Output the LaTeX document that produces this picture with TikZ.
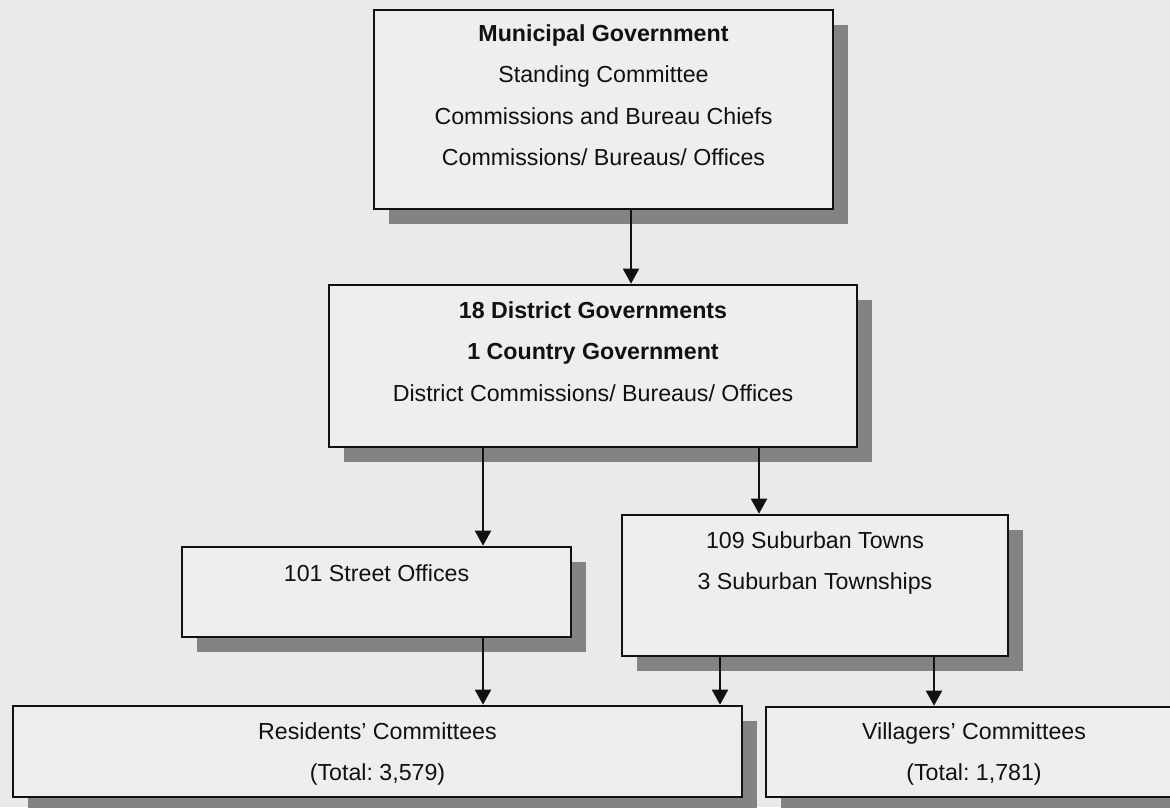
\documentclass[tikz,border=0pt]{standalone}
\usepackage{fontspec}
\setmainfont{Liberation Sans}
\usepackage{xcolor}
\usetikzlibrary{positioning,arrows.meta,shadows}
\definecolor{orgpaper}{HTML}{EAEAEA}
\definecolor{orgfill}{HTML}{EEEEEE}
\definecolor{orgink}{HTML}{111111}
\definecolor{orgshade}{HTML}{838383}
\frenchspacing

\begin{document}
\begin{tikzpicture}[
  x=0.5pt, y=-0.5pt,
  font=\fontsize{11.6}{20.7}\selectfont,
  unit/.style={draw=orgink, line width=1.3pt, fill=orgfill, inner sep=0pt,
    drop shadow={shadow xshift=7.5pt, shadow yshift=-7.5pt, fill=orgshade, opacity=1}},
  caption/.style={align=center, inner sep=0pt, outer sep=0pt, text=orgink},
  link/.style={-{Triangle[width=8pt, length=7.5pt]}, line width=1pt, orgink},
  ]
  \useasboundingbox (0,0) rectangle (1170,807);
  \clip (0,0) rectangle (1170,807);
  \fill[orgpaper] (0,0) rectangle (1170,807);

  % boxes
  \node[unit, minimum width=229.5pt, minimum height=99.5pt] (mg) at (603.5,109.5) {};
  \node[unit, minimum width=264pt, minimum height=81pt] (dg) at (593,366) {};
  \node[unit, minimum width=194.5pt, minimum height=45pt] (so) at (376.5,592) {};
  \node[unit, minimum width=193pt, minimum height=70.5pt] (st) at (815,585.5) {};
  \node[unit, minimum width=364.5pt, minimum height=45.5pt] (rc) at (377.5,751.5) {};
  \node[unit, minimum width=208pt, minimum height=45pt] (vc) at (974,752) {};

  % texts
  \node[caption, below=8pt of mg.north] (mgtext)
    {\textbf{Municipal Government}\\Standing Committee\\Commissions and Bureau Chiefs\\Commissions/ Bureaus/ Offices};
  \node[caption, below=9pt of dg.north] (dgtext)
    {\textbf{18 District Governments}\\\textbf{1 Country Government}\\District Commissions/ Bureaus/ Offices};
  \node[caption, below=9.5pt of so.north] (sotext) {101 Street Offices};
  \node[caption, below=9pt of st.north] (sttext) {109 Suburban Towns\\3 Suburban Townships};
  \node[caption, below=9pt of rc.north] (rctext) {Residents' Committees\\(Total: 3,579)};
  \node[caption, below=8.5pt of vc.north] (vctext) {Villagers' Committees\\(Total: 1,781)};

  % connectors
  \coordinate (mgout) at ([xshift=13.75pt]mg.south);
  \coordinate (dgleft) at ([xshift=-55pt]dg.south);
  \coordinate (dgright) at ([xshift=83pt]dg.south);
  \coordinate (soout) at ([xshift=53.25pt]so.south);
  \coordinate (stleft) at ([xshift=-47.5pt]st.south);
  \coordinate (stright) at ([xshift=59.5pt]st.south);
  \draw[link] (mgout) -- (mgout |- dg.north);
  \draw[link] (dgleft) -- (dgleft |- so.north);
  \draw[link] (dgright) -- (dgright |- st.north);
  \draw[link] (soout) -- (soout |- rc.north);
  \draw[link] (stleft) -- (stleft |- rc.north);
  \draw[link] (stright) -- (stright |- vc.north);
\end{tikzpicture}
\end{document}
